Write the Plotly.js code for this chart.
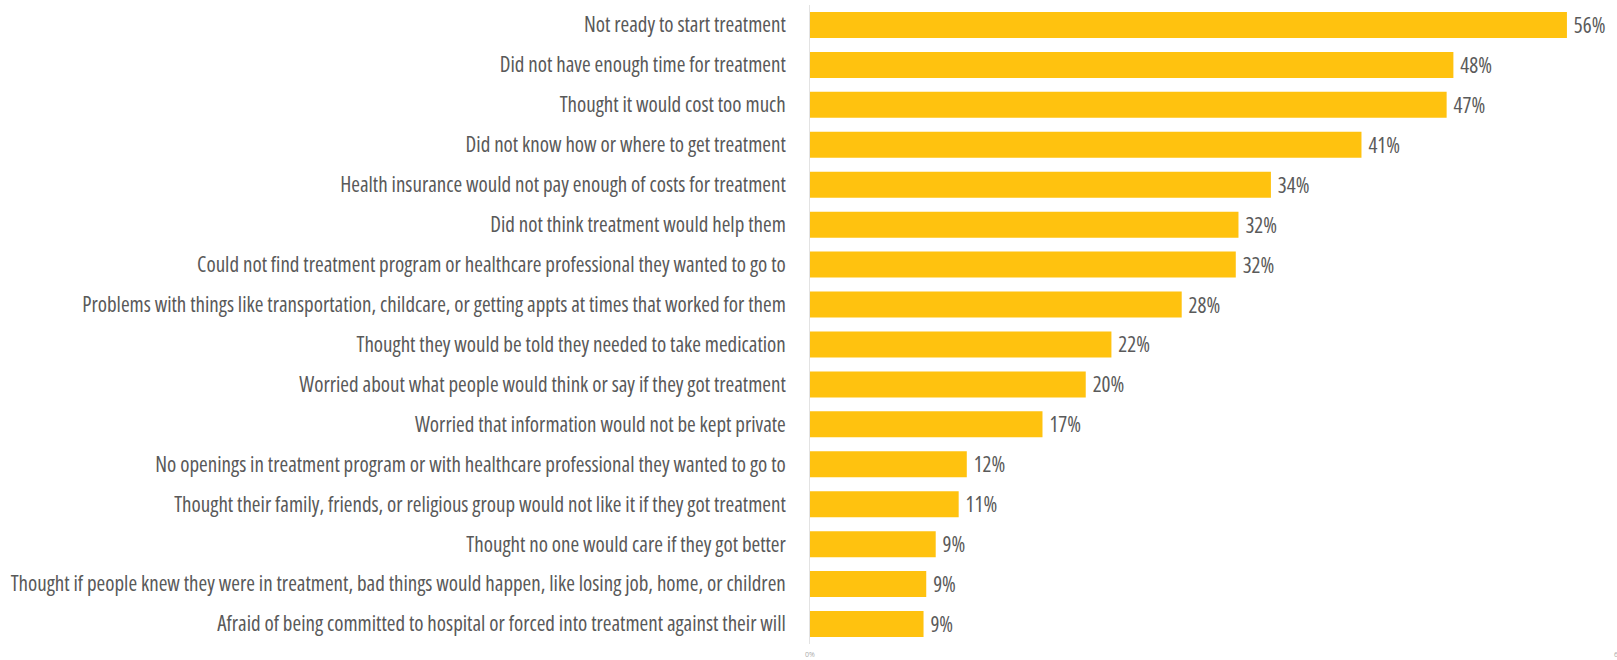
<!DOCTYPE html>
<html>
<head>
<meta charset="utf-8">
<script src="https://cdn.plot.ly/plotly-3.0.1.min.js"></script>
<style>
html, body { margin: 0; padding: 0; overflow: hidden; background: #fff; }
#chart { width: 1640px; height: 660px; }
.ytick text, .bartext, .bartext text, .textpoint text { font-stretch: 75%; }
</style>
</head>
<body>
<div id="chart"></div>
<script>
const categories = [
  "Not ready to start treatment",
  "Did not have enough time for treatment",
  "Thought it would cost too much",
  "Did not know how or where to get treatment",
  "Health insurance would not pay enough of costs for treatment",
  "Did not think treatment would help them",
  "Could not find treatment program or healthcare professional they wanted to go to",
  "Problems with things like transportation, childcare, or getting appts at times that worked for them",
  "Thought they would be told they needed to take medication",
  "Worried about what people would think or say if they got treatment",
  "Worried that information would not be kept private",
  "No openings in treatment program or with healthcare professional they wanted to go to",
  "Thought their family, friends, or religious group would not like it if they got treatment",
  "Thought no one would care if they got better",
  "Thought if people knew they were in treatment, bad things would happen, like losing job, home, or children",
  "Afraid of being committed to hospital or forced into treatment against their will"
];
const values = [56, 47.6, 47.1, 40.8, 34.1, 31.7, 31.5, 27.5, 22.3, 20.4, 17.2, 11.6, 11.0, 9.3, 8.6, 8.4];
const valueLabels = ["56%", "48%", "47%", "41%", "34%", "32%", "32%", "28%", "22%", "20%", "17%", "12%", "11%", "9%", "9%", "9%"];
const xTickVals = [0, 60];
const xTickText = ["0%", "60%"];

const trace = {
  type: "bar",
  orientation: "h",
  x: values,
  y: categories,
  text: valueLabels,
  texttemplate: "\u00a0%{text}",
  textposition: "outside",
  constraintext: "none",
  cliponaxis: false,
  textfont: { family: "Open Sans, Liberation Sans Narrow, sans-serif", size: 21, color: "#5a5a5a" },
  marker: { color: "#FFC20F" },
  hoverinfo: "none"
};

const layout = {
  width: 1640,
  height: 660,
  margin: { l: 810, r: 19, t: 5, b: 16, pad: 0 },
  paper_bgcolor: "#ffffff",
  plot_bgcolor: "#ffffff",
  bargap: 0.35,
  showlegend: false,
  xaxis: {
    range: [0, 60],
    tickvals: xTickVals,
    ticktext: xTickText,
    showgrid: false,
    zeroline: false,
    showline: false,
    ticks: "",
    ticklabelstandoff: 5,
    tickfont: { family: "Open Sans, sans-serif", size: 7, color: "#aaaaaa" },
    automargin: false,
    fixedrange: true
  },
  yaxis: {
    type: "category",
    categoryorder: "array",
    categoryarray: categories,
    autorange: "reversed",
    showgrid: false,
    zeroline: false,
    showline: true,
    linecolor: "#e3e3e3",
    linewidth: 1,
    ticks: "",
    ticklabelstandoff: 19,
    tickfont: { family: "Open Sans, Liberation Sans Narrow, sans-serif", size: 21, color: "#595959" },
    automargin: false,
    fixedrange: true
  }
};

Plotly.newPlot("chart", [trace], layout, { displayModeBar: false, staticPlot: true });
</script>
</body>
</html>
